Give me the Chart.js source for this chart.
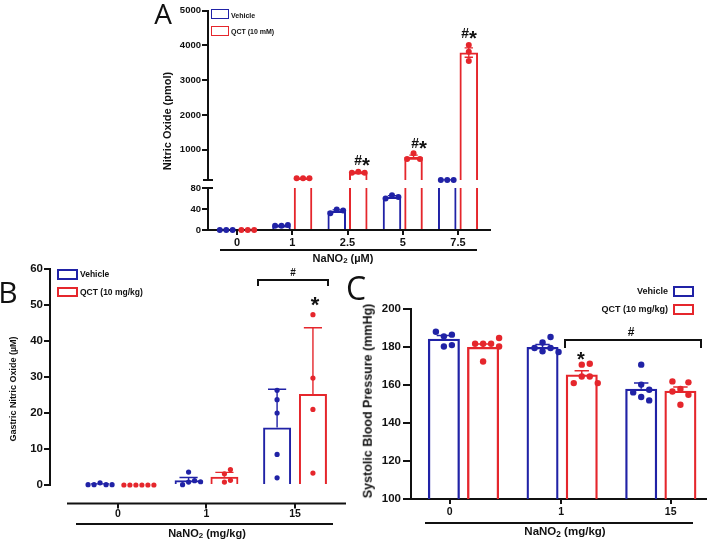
<!DOCTYPE html>
<html>
<head>
<meta charset="utf-8">
<script src="https://cdn.jsdelivr.net/npm/chart.js@4/dist/chart.umd.min.js"></script>
<style>
  body { margin: 0; background: #fff; }
  #fig { position: relative; width: 709px; height: 540px; overflow: hidden; font-family: "Liberation Sans", Arial, sans-serif; color: #111; }
  #fig canvas { position: absolute; left: 0; top: 0; }
  .t { position: absolute; white-space: nowrap; font-weight: bold; line-height: 1; transform: translate(-50%, -50%); }
  .rot { transform: translate(-50%, -50%) rotate(-90deg); }
  .letter { font-weight: normal; font-family: "Open Sans", "Liberation Sans", sans-serif; }
  .star { transform: translate(-50%, -28%); }
  .ast { font-size: 1.45em; line-height: 0; position: relative; top: 0.33em; }
  .leg { position: absolute; white-space: nowrap; font-weight: bold; line-height: 1; transform: translateY(-50%); }
  .legr { transform: translate(-100%, -50%); }
  .box { position: absolute; box-sizing: border-box; }
  .line { position: absolute; background: #111; }
  .brk { position: absolute; box-sizing: border-box; border: 2px solid #111; border-bottom: none; }
  sub { font-size: 0.72em; line-height: 0; vertical-align: -0.25em; }
</style>
</head>
<body>
<div id="fig">
  <canvas id="aTop" width="709" height="540"></canvas>
  <canvas id="aBot" width="709" height="540"></canvas>
  <canvas id="chartB" width="709" height="540"></canvas>
  <canvas id="chartC" width="709" height="540"></canvas>

  <!-- panel A -->
  <div class="t letter" style="left:163px;top:13px;font-size:28px">A</div>
  <div class="t rot" style="left:167px;top:121px;font-size:11px">Nitric Oxide (pmol)</div>
  <div class="t" style="left:343px;top:258px;font-size:11px">NaNO<sub>2</sub> (µM)</div>
  <div class="line" style="left:220px;top:249px;width:257px;height:2px"></div>
  <div class="line" style="left:203px;top:179px;width:10px;height:2px"></div>
  <div class="line" style="left:203px;top:187px;width:10px;height:2px"></div>
  <div class="box" style="left:211px;top:9px;width:18px;height:10px;border:1.5px solid #2022a6"></div>
  <div class="leg" style="left:231px;top:14.5px;font-size:7px">Vehicle</div>
  <div class="box" style="left:211px;top:25.5px;width:18px;height:10px;border:1.5px solid #e5262c"></div>
  <div class="leg" style="left:231px;top:30.7px;font-size:7px">QCT (10 mM)</div>
  <div class="t" style="left:362px;top:160px;font-size:14px">#<span class="ast">*</span></div>
  <div class="t" style="left:419px;top:143px;font-size:14px">#<span class="ast">*</span></div>
  <div class="t" style="left:469px;top:33px;font-size:14px">#<span class="ast">*</span></div>

  <!-- panel B -->
  <div class="t letter" style="left:8px;top:292px;font-size:30px">B</div>
  <div class="t rot" style="left:13px;top:389px;font-size:9px">Gastric Nitric Oxide (µM)</div>
  <div class="t" style="left:207px;top:533px;font-size:11px">NaNO<sub>2</sub> (mg/kg)</div>
  <div class="line" style="left:76px;top:523px;width:257px;height:2px"></div>
  <div class="box" style="left:57px;top:269px;width:20.5px;height:10.5px;border:2px solid #2022a6"></div>
  <div class="leg" style="left:80px;top:274.3px;font-size:8.5px">Vehicle</div>
  <div class="box" style="left:57px;top:286.5px;width:20.5px;height:10.5px;border:2px solid #e5262c"></div>
  <div class="leg" style="left:80px;top:292px;font-size:8.5px">QCT (10 mg/kg)</div>
  <div class="brk" style="left:257px;top:279px;width:72px;height:7px"></div>
  <div class="t" style="left:293px;top:272.5px;font-size:10px">#</div>
  <div class="t star" style="left:315px;top:300px;font-size:22px">*</div>

  <!-- panel C -->
  <div class="t letter" style="left:356px;top:288px;font-size:32px">C</div>
  <div class="t rot" style="left:368px;top:401px;font-size:12.5px">Systolic Blood Pressure (mmHg)</div>
  <div class="t" style="left:565px;top:532px;font-size:11.5px">NaNO<sub>2</sub> (mg/kg)</div>
  <div class="line" style="left:425px;top:522px;width:268px;height:2px"></div>
  <div class="leg legr" style="left:668px;top:290.7px;font-size:9px">Vehicle</div>
  <div class="box" style="left:673px;top:286px;width:21px;height:10.5px;border:2px solid #2022a6"></div>
  <div class="leg legr" style="left:668px;top:309.3px;font-size:9px">QCT (10 mg/kg)</div>
  <div class="box" style="left:673px;top:303.5px;width:21px;height:11.5px;border:2px solid #e5262c"></div>
  <div class="brk" style="left:564px;top:339px;width:138px;height:9px"></div>
  <div class="t" style="left:631px;top:331.5px;font-size:12px">#</div>
  <div class="t star" style="left:581px;top:355px;font-size:20px">*</div>
</div>

<script>
// ---- values ----
// A: nitric oxide made in vitro (pmol); the y axis is broken between 80 and ~125
const doseA = ["0", "1", "2.5", "5", "7.5"];
const vehA = [0, 8, 36, 63, 128];
const qctA = [0, 175, 345, 785, 3795];
const vehASem = [0, 0.6, 2.2, 2.4, 1];
const qctASem = [0, 2, 10, 55, 135];
const vehADots = [[0, 0, 0], [8, 9.5, 8], [39, 37, 32], [66, 63, 60], [128, 128, 128]];
const qctADots = [[0, 0, 0], [175, 175, 175], [364, 335, 335], [894, 730, 730], [4012, 3819, 3551]];
const yTicksATop = [1000, 2000, 3000, 4000, 5000];
const yTicksABot = [0, 40, 80];

// B: gastric nitric oxide (µM)
const doseB = ["0", "1", "15"];
const vehB = [0.2, 1.3, 16];
const qctB = [0, 2.3, 25.3];
const vehBErr = [0.1, 0.8, 10.6];
const qctBErr = [0, 1.2, 18.4];
const vehBDots = [[0.6, 0.1, 0.1, 0.1, 0.1], [0.8, 3.6, 1.2, 0.1, 0.9], [26.3, 23.7, 20, 8.5, 2]];
const qctBDots = [[0, 0, 0, 0, 0, 0], [3.1, 4.3, 0.8, 1.3], [47.3, 29.7, 21, 3.3]];
const yTicksB = [0, 10, 20, 30, 40, 50, 60];

// C: systolic blood pressure (mmHg)
const doseC = ["0", "1", "15"];
const vehC = [184.4, 180, 158];
const qctC = [180, 165.5, 157];
const vehCErr = [1.7, 1.3, 3];
const qctCErr = [1.6, 2, 2];
const vehCDots = [[185.6, 180.3, 186.5, 181, 188], [182.4, 185.3, 179.5, 177.7, 179.5, 177.4], [170.7, 160.2, 157.5, 156.1, 153.7, 151.9]];
const qctCDots = [[181.7, 181.7, 181.7, 184.7, 180.3, 172.4], [170.7, 171.2, 164.5, 164.5, 161, 161], [157.9, 161.4, 161.9, 154.9, 156.6, 149.6]];
const yTicksC = [100, 120, 140, 160, 180, 200];

const FONT = "'Liberation Sans', Arial, sans-serif";
const INK = "#111";
const BLUE = "#2022a6";
const RED = "#e5262c";

const setTicks = (vals) => (scale) => {
  scale.ticks = vals.map((value) => ({ value }));
};

function yScale(min, max, ticks, width, size, tickLength, padding) {
  return {
    min,
    max,
    afterBuildTicks: setTicks(ticks),
    afterFit: (s) => {
      s.width = width;
    },
    border: { color: INK, width: 2 },
    grid: { drawOnChartArea: false, color: INK, lineWidth: 2, tickLength },
    ticks: {
      color: INK,
      padding,
      font: { family: FONT, size, weight: "bold" },
      callback: (v) => String(v),
    },
  };
}

function xScale(min, max, ticks, labels, o) {
  return {
    type: "linear",
    offset: false,
    min,
    max,
    display: o.show,
    afterBuildTicks: setTicks(ticks),
    afterFit: (s) => {
      if (o.show) s.height = o.height;
    },
    border: { display: o.line, color: INK, width: 2 },
    grid: { display: o.line, offset: false, drawOnChartArea: false, drawTicks: o.line, color: INK, lineWidth: 2, tickLength: 5 },
    ticks: {
      color: INK,
      padding: o.pad,
      font: { family: FONT, size: o.size, weight: "bold" },
      callback: (v, i) => labels[i],
    },
  };
}

function bars(means, color, width, cat, bar) {
  return {
    data: means.map((y, x) => ({ x, y })),
    borderColor: color,
    backgroundColor: "rgba(255,255,255,0)",
    borderWidth: width,
    categoryPercentage: cat,
    barPercentage: bar,
    clip: 0,
  };
}

// spread dots sideways only where they would overlap
function swarm(ys, cx, d) {
  const placed = [];
  ys.forEach((py) => {
    for (let k = 0; k < 40; k++) {
      const step = k === 0 ? 0 : Math.ceil(k / 2) * (k % 2 ? 1 : -1);
      const px = cx + step * d;
      if (placed.every((p) => (p.x - px) ** 2 + (p.y - py) ** 2 >= d * d * 0.95)) {
        placed.push({ x: px, y: py });
        break;
      }
    }
  });
  return placed;
}

// error bars + individual animals, drawn on top of each bar
function marks(sets, look) {
  return {
    id: "marks",
    afterDatasetsDraw(chart) {
      const ctx = chart.ctx;
      const y = chart.scales.y;
      sets.forEach((set, di) => {
        chart.getDatasetMeta(di).data.forEach((bar, j) => {
          const mean = set.mean[j];
          const err = set.err[j];
          ctx.save();
          ctx.strokeStyle = set.color;
          ctx.fillStyle = set.color;
          if (err > 0 && mean >= y.min && mean <= y.max) {
            const hi = y.getPixelForValue(mean + err);
            const lo = y.getPixelForValue(look.both ? mean - err : mean);
            const half = (bar.width * look.cap) / 2;
            ctx.lineWidth = look.errWidth;
            ctx.beginPath();
            ctx.moveTo(bar.x, hi);
            ctx.lineTo(bar.x, lo);
            ctx.moveTo(bar.x - half, hi);
            ctx.lineTo(bar.x + half, hi);
            if (look.both) {
              ctx.moveTo(bar.x - half, lo);
              ctx.lineTo(bar.x + half, lo);
            }
            ctx.stroke();
          }
          const ys = set.dots[j]
            .filter((v) => v >= y.min && v <= y.max)
            .map((v) => y.getPixelForValue(v));
          swarm(ys, bar.x, look.r * 2 + look.gap).forEach((p) => {
            ctx.beginPath();
            ctx.arc(p.x, p.y, look.r, 0, Math.PI * 2);
            ctx.fill();
          });
          ctx.restore();
        });
      });
    },
  };
}

// panel B draws its category axis a little below zero
const offsetAxisB = {
  id: "offsetAxisB",
  afterDraw(chart) {
    const { ctx } = chart;
    const x = chart.scales.x;
    const y0 = 503.5;
    ctx.save();
    ctx.strokeStyle = INK;
    ctx.lineWidth = 2;
    ctx.beginPath();
    ctx.moveTo(67, y0);
    ctx.lineTo(346, y0);
    x.ticks.forEach((t) => {
      const px = Math.round(x.getPixelForValue(t.value));
      ctx.moveTo(px, y0);
      ctx.lineTo(px, y0 + 5);
    });
    ctx.stroke();
    ctx.restore();
  },
};

function panel(id, cfg) {
  return new Chart(document.getElementById(id), {
    type: "bar",
    data: {
      datasets: [
        bars(cfg.veh, BLUE, cfg.bw, cfg.cat, cfg.bar),
        bars(cfg.qct, RED, cfg.bw, cfg.cat, cfg.bar),
      ],
    },
    options: {
      responsive: false,
      animation: false,
      events: [],
      layout: { padding: cfg.pad },
      plugins: { legend: { display: false }, tooltip: { enabled: false } },
      scales: { x: cfg.x, y: cfg.y },
    },
    plugins: [
      marks(
        [
          { mean: cfg.veh, err: cfg.vehErr, dots: cfg.vehDots, color: BLUE },
          { mean: cfg.qct, err: cfg.qctErr, dots: cfg.qctDots, color: RED },
        ],
        cfg.look
      ),
    ].concat(cfg.extra || []),
  });
}

const lookA = { r: 3, gap: 0.4, cap: 0.45, errWidth: 1.3, both: true };
const xRangeA = [-0.525, 4.579];

// A, upper segment (above the break)
panel("aTop", {
  veh: vehA, qct: qctA, vehErr: vehASem, qctErr: qctASem, vehDots: vehADots, qctDots: qctADots,
  bw: 2, cat: 0.78, bar: 0.86, look: lookA,
  pad: { left: 150, top: 10.7, right: 219, bottom: 360 },
  x: xScale(xRangeA[0], xRangeA[1], [0, 1, 2, 3, 4], doseA, { show: false, line: false, pad: 0, size: 11 }),
  y: yScale(125, 5000, yTicksATop, 58, 9.5, 6, 1),
});

// A, lower segment (0-80)
panel("aBot", {
  veh: vehA, qct: qctA, vehErr: vehASem, qctErr: qctASem, vehDots: vehADots, qctDots: qctADots,
  bw: 2, cat: 0.78, bar: 0.86, look: lookA,
  pad: { left: 150, top: 188, right: 219, bottom: 290 },
  x: xScale(xRangeA[0], xRangeA[1], [0, 1, 2, 3, 4], doseA, { show: true, line: true, pad: 1, size: 11, height: 20 }),
  y: yScale(0, 80, yTicksABot, 58, 9.5, 6, 1),
});

panel("chartB", {
  veh: vehB, qct: qctB, vehErr: vehBErr, qctErr: qctBErr, vehDots: vehBDots, qctDots: qctBDots,
  bw: 2, cat: 0.81, bar: 0.78, look: { r: 2.6, gap: 0.8, cap: 0.65, errWidth: 1.4, both: false },
  pad: { left: 0, top: 269, right: 363, bottom: 20 },
  x: xScale(-0.768, 2.576, [0, 1, 2], doseB, { show: true, line: false, pad: 23, size: 10.5, height: 35 }),
  y: yScale(0, 60, yTicksB, 50, 11.5, 6, 1),
  extra: [offsetAxisB],
});

panel("chartC", {
  veh: vehC, qct: qctC, vehErr: vehCErr, qctErr: qctCErr, vehDots: vehCDots, qctDots: qctCDots,
  bw: 2.3, cat: 0.795, bar: 0.816, look: { r: 3.2, gap: 1.6, cap: 0.45, errWidth: 1.5, both: false },
  pad: { left: 340, top: 309, right: 3, bottom: 20 },
  x: xScale(-0.532, 2.458, [-0.14, 0.99, 2.1], doseC, { show: true, line: true, pad: 2, size: 10.5, height: 21 }),
  y: yScale(100, 200, yTicksC, 71, 11.5, 8, 2),
});
</script>
</body>
</html>
